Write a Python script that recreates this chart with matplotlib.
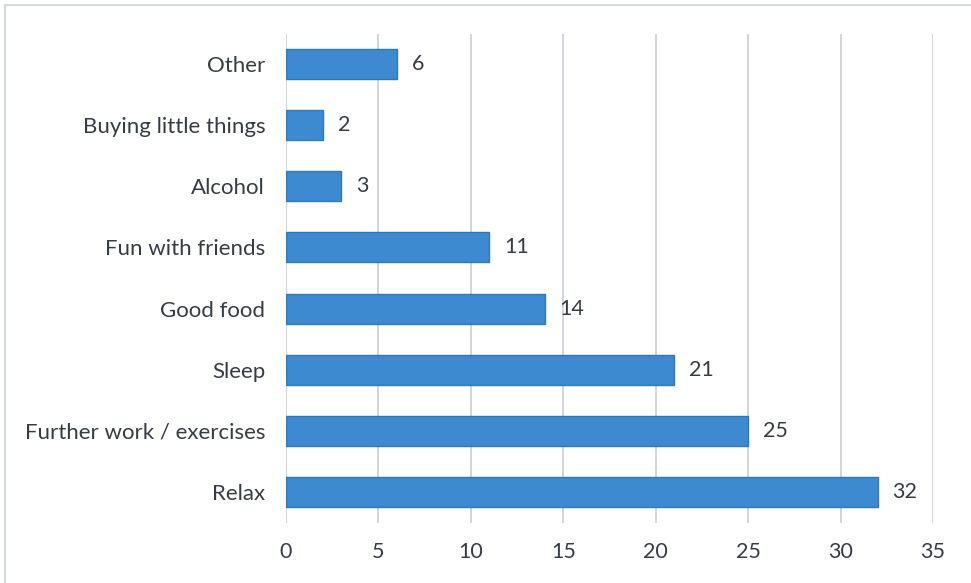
import matplotlib.pyplot as plt
from matplotlib.lines import Line2D

# answers, listed bottom to top
activities = ["Relax", "Further work / exercises", "Sleep", "Good food",
              "Fun with friends", "Alcohol", "Buying little things", "Other"]
counts = [32, 25, 21, 14, 11, 3, 2, 6]
x_ticks = [0, 5, 10, 15, 20, 25, 30, 35]

text_col = "#363c46"
bar_col = "#3d8ad0"
edge_col = "#3277b8"
grid_col = "#c9ced6"

plt.rcParams['font.family'] = ['Lato', 'DejaVu Sans']

fig = plt.figure(figsize=(9.71, 5.83), dpi=100)
ax = fig.add_axes([286 / 971, 60.5 / 583, 647 / 971, 489 / 583])

pos = list(range(len(activities)))
ax.barh(pos, counts, height=0.49, color=bar_col, edgecolor=edge_col,
        linewidth=1.0, zorder=3)

for y, v in zip(pos, counts):
    ax.text(v + 0.8, y, str(v), va="center", ha="left",
            fontsize=15.5, color=text_col)

ax.set_xlim(0, 35)
ax.set_ylim(-0.5, len(activities) - 0.5)
ax.set_xticks(x_ticks)
ax.set_yticks(pos)
ax.set_yticklabels(activities, fontsize=16)
ax.tick_params(axis="both", length=0, labelsize=15.5, labelcolor=text_col)
ax.tick_params(axis="y", labelsize=16, pad=15)
ax.tick_params(axis="x", pad=14)

ax.xaxis.grid(True, color=grid_col, linewidth=1.2, zorder=0)
ax.set_axisbelow(True)
for s in ax.spines.values():
    s.set_visible(False)

# outer frame, only left and top edges are in view
fig.add_artist(Line2D([5 / 971, 5 / 971], [0, 1 - 5 / 583],
                      transform=fig.transFigure, color="#d3dae3", lw=1.5))
fig.add_artist(Line2D([5 / 971, 1], [1 - 5 / 583, 1 - 5 / 583],
                      transform=fig.transFigure, color="#d3dae3", lw=1.5))

fig.savefig("out.png", dpi=100)
